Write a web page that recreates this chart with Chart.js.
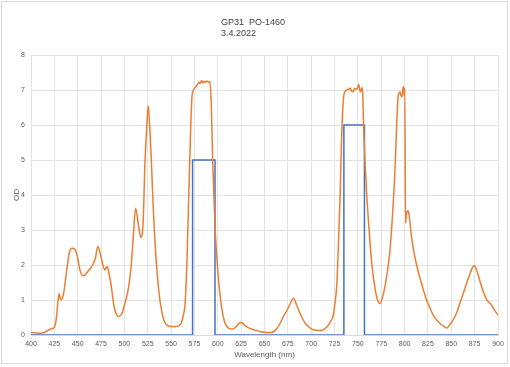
<!DOCTYPE html>
<html>
<head>
<meta charset="utf-8">
<script src="https://cdn.jsdelivr.net/npm/chart.js@4/dist/chart.umd.min.js"></script>
<style>
  html, body { margin: 0; padding: 0; background: #ffffff; }
  #wrap { width: 510px; height: 367px; position: relative; }
</style>
</head>
<body>
<div id="wrap"><canvas id="c" width="510" height="367"></canvas></div>
<script>
// Title lines
const titleLines = ["GP31  PO-1460", "3.4.2022"];

// Orange series (measured OD vs wavelength)
const orangeX = [400,405,410,415,418,422,425,427,429,430,432,435,438,441,444,447,450,452,455,458,461,466,469,471.5,474,477,479,481.5,484,486,489,492,494,497,500,504,507,509,512,515,517.5,520,522,524,525.5,527,528.5,531,534.5,538,541,543,548,555,559,561,563,565,567,569,571,572.5,574,576,578,580,581,582.5,584,585,587,588,590,591.5,593,594.5,597,600.5,604,607,609.5,612,615,618,621,624,626,629,632,636,640,645,650,656,660,663,667,670,674,677,681,684.5,688,691,695,699,702,709,714,718,721,723.5,725,727.5,729,731,732.6,734.4,736,738,740,741.5,743,745,746.5,748.5,750,751,752,753,754.5,755.3,756,759,762.5,765,768,771,773.4,776,779,782,784,787,789.7,791.5,793,794,795,796,797,798,798.6,799.5,800.2,801,802,803.5,805,807,809,812,816,820,823.5,827,830.6,834,838,842,845,848,852,856,859,863,866.4,870,873,875,877,880,882.5,886,888,891,893,896,900];
const orangeY = [0.07,0.06,0.05,0.08,0.13,0.18,0.22,0.45,1.0,1.18,1.0,1.2,1.8,2.35,2.48,2.45,2.2,1.9,1.7,1.72,1.82,2.0,2.2,2.53,2.35,2.0,1.86,1.96,1.7,1.38,0.8,0.56,0.53,0.6,0.85,1.29,1.9,2.6,3.62,3.15,2.79,3.2,4.9,6.0,6.55,6.0,5.2,3.57,1.95,1.0,0.55,0.38,0.25,0.24,0.28,0.35,0.55,0.9,2.14,4.05,5.95,6.85,7.0,7.08,7.15,7.22,7.18,7.27,7.2,7.25,7.22,7.26,7.22,7.24,6.6,5.0,3.09,1.67,0.8,0.4,0.25,0.19,0.17,0.2,0.28,0.36,0.35,0.27,0.22,0.17,0.14,0.1,0.08,0.07,0.1,0.18,0.35,0.52,0.7,0.86,1.05,0.85,0.62,0.45,0.29,0.2,0.15,0.13,0.17,0.27,0.4,0.55,0.81,1.48,2.5,4.0,5.67,6.71,6.95,7.0,7.02,7.06,6.98,6.95,7.05,7.02,7.08,7.16,7.0,6.95,7.08,6.8,6.05,4.24,2.81,2.0,1.38,1.0,0.9,1.05,1.38,1.9,2.33,3.4,4.71,6.0,6.81,6.9,6.95,6.85,6.8,7.0,7.1,6.85,7.05,3.2,3.45,3.55,3.4,2.9,2.52,2.1,1.67,1.3,1.0,0.78,0.57,0.44,0.33,0.25,0.2,0.28,0.43,0.65,0.9,1.2,1.48,1.75,1.95,1.98,1.86,1.6,1.38,1.12,1.0,0.92,0.86,0.72,0.57];

// Blue series (target OD bands)
const blueX = [400,573,573,597,597,735,735,757,757,900];
const blueY = [0,0,5,5,0,0,6,6,0,0];

// Axis settings
const xMin = 400, xMax = 900, xStep = 25;
const yMin = 0, yMax = 8, yStep = 1;
const xTitle = "Wavelength (nm)";
const yTitle = "OD";

const toPts = (xs, ys) => xs.map((x, i) => ({ x: x, y: ys[i] }));

const framePlugin = {
  id: 'frame',
  beforeDraw(chart) {
    const ctx = chart.ctx;
    ctx.save();
    ctx.fillStyle = '#ffffff';
    ctx.fillRect(0, 0, chart.width, chart.height);
    ctx.strokeStyle = '#d9d9d9';
    ctx.lineWidth = 1;
    ctx.strokeRect(1.5, 1.5, 506, 362);
    ctx.restore();
  },
  afterDraw(chart) {
    const ctx = chart.ctx;
    ctx.save();
    ctx.fillStyle = '#404040';
    ctx.font = '9px "Liberation Sans", Arial, sans-serif';
    ctx.textAlign = 'left';
    ctx.textBaseline = 'middle';
    ctx.fillText(titleLines[0], 221, 22.5);
    ctx.fillText(titleLines[1], 221, 33.5);
    ctx.restore();
  }
};

const tickFont = { family: '"Liberation Sans", Arial, sans-serif', size: 7 };
const titleFont = { family: '"Liberation Sans", Arial, sans-serif', size: 8 };

new Chart(document.getElementById('c'), {
  type: 'line',
  data: {
    datasets: [
      {
        label: 'Target',
        data: toPts(blueX, blueY),
        borderColor: '#4472C4',
        borderWidth: 1.5,
        pointRadius: 0,
        tension: 0,
        fill: false,
        order: 2
      },
      {
        label: 'Measured',
        data: toPts(orangeX, orangeY),
        borderColor: '#ED7D31',
        borderWidth: 1.5,
        pointRadius: 0,
        cubicInterpolationMode: 'monotone',
        fill: false,
        order: 1
      }
    ]
  },
  options: {
    responsive: false,
    animation: false,
    devicePixelRatio: 1,
    layout: { padding: { top: 55, right: 12, left: 0, bottom: 0 } },
    plugins: { legend: { display: false }, tooltip: { enabled: false }, title: { display: false } },
    scales: {
      x: {
        type: 'linear',
        min: xMin, max: xMax,
        ticks: { stepSize: xStep, color: '#595959', font: tickFont, padding: 5, maxRotation: 0, autoSkip: false },
        grid: { color: '#e3e3e3', drawTicks: false },
        border: { display: true, color: '#d9d9d9' },
        title: { display: true, text: xTitle, color: '#595959', font: titleFont, padding: { top: 0, bottom: 7.7 } },
        afterFit(scale) { scale.height = 32; }
      },
      y: {
        min: yMin, max: yMax,
        ticks: { stepSize: yStep, color: '#595959', font: tickFont, padding: 6 },
        grid: { color: '#e3e3e3', drawTicks: false },
        border: { display: false },
        title: { display: true, text: yTitle, color: '#595959', font: titleFont, padding: { top: 12.2, bottom: 0 } },
        afterFit(scale) { scale.width = 31; }
      }
    }
  },
  plugins: [framePlugin]
});
</script>
</body>
</html>
